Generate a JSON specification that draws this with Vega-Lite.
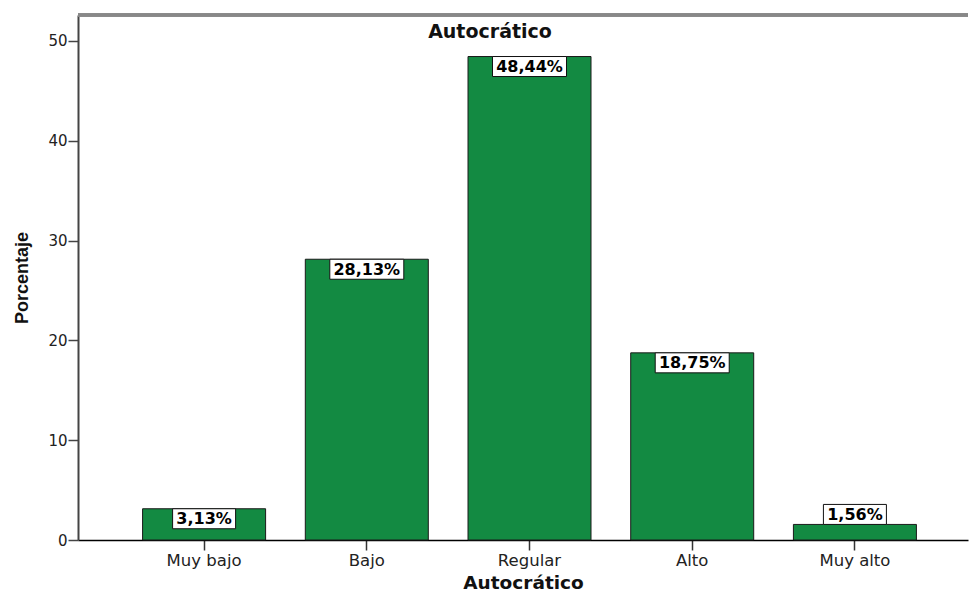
{
  "$schema": "https://vega.github.io/schema/vega-lite/v6.json",
  "width": 890,
  "height": 525,
  "autosize": {"type": "none"},
  "padding": {"left": 78, "top": 15, "right": 2, "bottom": 56},
  "background": "#ffffff",
  "title": {
    "text": "Autocrático",
    "font": "DejaVu Sans",
    "fontSize": 19,
    "fontWeight": "bold",
    "color": "#111111",
    "anchor": "middle",
    "frame": "group",
    "dx": -33,
    "offset": -28
  },
  "data": {
    "values": [
      {"nivel": "Muy bajo", "pct": 3.13},
      {"nivel": "Bajo", "pct": 28.13},
      {"nivel": "Regular", "pct": 48.44},
      {"nivel": "Alto", "pct": 18.75},
      {"nivel": "Muy alto", "pct": 1.56}
    ]
  },
  "transform": [
    {"calculate": "replace(format(datum.pct, '.2f'), '.', ',') + '%'", "as": "etiqueta"}
  ],
  "encoding": {
    "x": {
      "field": "nivel",
      "type": "nominal",
      "sort": null,
      "scale": {"paddingInner": 0.244, "paddingOuter": 0.357, "align": 0.556},
      "axis": {
        "title": "Autocrático",
        "titleFont": "DejaVu Sans",
        "titleFontSize": 18.5,
        "titleFontWeight": "bold",
        "titleColor": "#111111",
        "titlePadding": 5,
        "labelFont": "DejaVu Sans",
        "labelFontSize": 16.5,
        "labelColor": "#222222",
        "labelAngle": 0,
        "labelPadding": 2,
        "tickSize": 10,
        "tickColor": "#333333",
        "tickWidth": 1.5,
        "domainColor": "#000000",
        "domainWidth": 1.5
      }
    },
    "y": {
      "field": "pct",
      "type": "quantitative",
      "scale": {"domain": [0, 52.6], "nice": false},
      "axis": {
        "title": "Porcentaje",
        "titleFont": "Liberation Sans",
        "titleFontSize": 18,
        "titleFontWeight": "bold",
        "titleColor": "#111111",
        "titlePadding": 16,
        "values": [0, 10, 20, 30, 40, 50],
        "grid": false,
        "labelFont": "DejaVu Sans",
        "labelFontSize": 15,
        "labelColor": "#222222",
        "labelPadding": 1,
        "tickSize": 10,
        "tickColor": "#444444",
        "tickWidth": 1.5,
        "domainColor": "#444444",
        "domainWidth": 2
      }
    }
  },
  "layer": [
    {
      "mark": {"type": "rule", "stroke": "#888888", "strokeWidth": 3},
      "encoding": {"y": {"datum": 52.6}, "x": {"value": 0}, "x2": {"value": 890}}
    },
    {
      "mark": {"type": "bar", "fill": "#138a42", "stroke": "#1a1a1a", "strokeWidth": 1}
    },
    {
      "mark": {"type": "point", "filled": true, "fill": "#ffffff", "stroke": "#111111", "strokeWidth": 1, "opacity": 1, "size": 10000},
      "encoding": {
        "shape": {
          "condition": [
            {"test": "datum.pct < 2", "value": "M-0.63,-0.4 L0.63,-0.4 L0.63,0 L-0.63,0 Z"},
            {"test": "datum.pct < 10", "value": "M-0.63,0 L0.63,0 L0.63,0.4 L-0.63,0.4 Z"}
          ],
          "value": "M-0.74,0 L0.74,0 L0.74,0.4 L-0.74,0.4 Z"
        }
      }
    },
    {
      "transform": [{"filter": "datum.pct >= 2"}],
      "mark": {"type": "text", "font": "DejaVu Sans", "fontSize": 16, "fontWeight": "bold", "color": "#000000", "baseline": "middle", "dy": 10.5},
      "encoding": {"text": {"field": "etiqueta"}}
    },
    {
      "transform": [{"filter": "datum.pct < 2"}],
      "mark": {"type": "text", "font": "DejaVu Sans", "fontSize": 16, "fontWeight": "bold", "color": "#000000", "baseline": "middle", "dy": -9.5},
      "encoding": {"text": {"field": "etiqueta"}}
    }
  ],
  "config": {
    "view": {"stroke": null}
  }
}
